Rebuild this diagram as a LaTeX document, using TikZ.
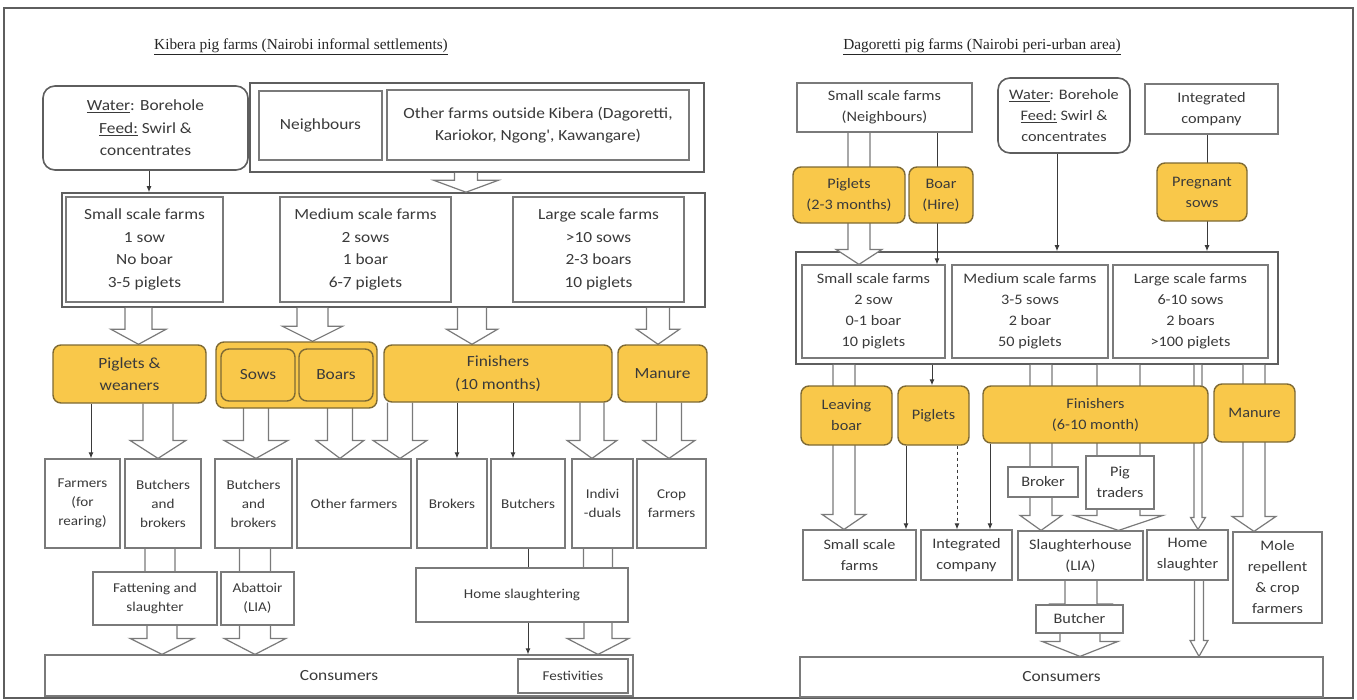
\documentclass[tikz,border=0pt]{standalone}
\usepackage{fontspec}
\setmainfont{Carlito}
\newfontfamily\boxfont{Carlito}[FakeStretch=1.12]
\newfontfamily\titlefont{Liberation Serif}
\usetikzlibrary{arrows.meta,calc}
\pgfdeclarelayer{bg}
\pgfsetlayers{bg,main}
\definecolor{ink}{HTML}{3A3A3A}
\definecolor{edge}{HTML}{7A7A7A}
\definecolor{frameline}{HTML}{5E5E5E}
\definecolor{gold}{HTML}{F9C84A}
\definecolor{goldedge}{HTML}{7E6A34}

% box from (x1,y1) to (x2,y2), y measured downwards
\newcommand\boxat[7][]{\node[#1, minimum width={#5-#3}, minimum height={#6-#4}] (#2) at ({(#3+#5)/2},{(#4+#6)/2}) {#7};}

\tikzset{
  every node/.style={inner sep=1pt, align=center, text=ink},
  boxline/.style={draw=edge, line width=1.2pt, fill=white},
  holder/.style={draw=frameline, line width=1.6pt, fill=white},
  soft/.style={draw=frameline, line width=1.6pt, fill=white, rounded corners=12pt},
  pig/.style={draw=goldedge, line width=1.4pt, fill=gold, rounded corners=8pt},
  lt/.style={font=\boxfont\fontsize{15.5}{22.5}\selectfont},
  rt/.style={font=\boxfont\fontsize{14.5}{21}\selectfont},
  st/.style={font=\boxfont\fontsize{13.5}{19}\selectfont},
  ttl/.style={font=\titlefont\fontsize{15.3}{18}\selectfont, text=black!85},
  wire/.style={draw=ink, line width=1pt, -{Latex[length=6pt,width=5pt]}},
  blk/.style n args={3}{draw=edge, line width=1.2pt, fill=white,
    to path={let \p1=(\tikztostart), \p2=(\tikztotarget) in
      (\x1-#1pt,\y1) -- (\x1-#1pt,\y2+#3pt) -- (\x1-#2pt,\y2+#3pt) -- (\x1,\y2)
      -- (\x1+#2pt,\y2+#3pt) -- (\x1+#1pt,\y2+#3pt) -- (\x1+#1pt,\y1)}},
}

\begin{document}
\begin{tikzpicture}[x=1pt,y=-1pt]
\useasboundingbox (0,0) rectangle (1357,699);

\begin{pgfonlayer}{bg}
  \fill[white] (0,0) rectangle (1357,699);
  % container frames
  \boxat[holder]{topK}{250}{83}{704}{172}{}
  \boxat[holder]{farmsK}{62}{193}{705}{307}{}
  \boxat[holder]{outerR}{796}{252}{1278}{364}{}
\end{pgfonlayer}

\draw[frameline, line width=1.2pt] (4,8) rectangle (1353,698);

% ---------------- Kibera ----------------
\node[ttl] (tK) at (301,47) {\underline{Kibera pig farms (Nairobi informal settlements)}};

\boxat[soft,lt]{waterK}{43}{86}{248}{170}{\underline{Water}: Borehole\\\underline{Feed:} Swirl \&\\concentrates}
\boxat[boxline,lt]{neighK}{259}{91}{382}{160}{Neighbours}
\boxat[boxline,lt]{otherK}{387}{90}{689}{160}{Other farms outside Kibera (Dagoretti,\\Kariokor, Ngong', Kawangare)}

\boxat[boxline,lt]{smallK}{66}{197}{223}{302}{Small scale farms\\1 sow\\No boar\\3-5 piglets}
\boxat[boxline,lt]{medK}{280}{197}{451}{302}{Medium scale farms\\2 sows\\1 boar\\6-7 piglets}
\boxat[boxline,lt]{largeK}{513}{197}{684}{302}{Large scale farms\\>10 sows\\2-3 boars\\10 piglets}

\boxat[pig,lt]{pigwK}{53}{345}{206}{403}{Piglets \&\\weaners}
\boxat[pig]{breedK}{216}{342}{377}{408}{}
\boxat[pig,lt]{sowsK}{221}{349}{295}{401}{Sows}
\boxat[pig,lt]{boarsK}{299}{349}{373}{401}{Boars}
\boxat[pig,lt]{finK}{384}{345}{612}{402}{Finishers\\(10 months)}
\boxat[pig,lt]{manK}{618}{345}{707}{402}{Manure}

\boxat[boxline,st]{rearK}{45}{459}{120}{548}{Farmers\\(for\\rearing)}
\boxat[boxline,st]{bbA}{125}{459}{201}{548}{Butchers\\and\\brokers}
\boxat[boxline,st]{bbB}{215}{459}{292}{548}{Butchers\\and\\brokers}
\boxat[boxline,st]{ofK}{297}{459}{411}{548}{Other farmers}
\boxat[boxline,st]{brK}{417}{459}{487}{548}{Brokers}
\boxat[boxline,st]{buK}{491}{459}{565}{548}{Butchers}
\boxat[boxline,st]{indK}{572}{459}{633}{548}{Indivi\\-duals}
\boxat[boxline,st]{cropK}{637}{459}{706}{548}{Crop\\farmers}

\boxat[boxline,st]{fatK}{93}{572}{217}{625}{Fattening and\\slaughter}
\boxat[boxline,st]{abK}{221}{572}{294}{625}{Abattoir\\(LIA)}
\boxat[boxline,st]{homeK}{416}{568}{628}{622}{Home slaughtering}
\boxat[boxline,lt]{consK}{45}{655}{633}{696}{Consumers}
\boxat[boxline,st]{festK}{518}{659}{628}{693}{Festivities}

% ---------------- Dagoretti ----------------
\node[ttl] (tD) at (982,47) {\underline{Dagoretti pig farms (Nairobi peri-urban area)}};

\boxat[boxline,rt]{nbR}{797}{83}{972}{132}{Small scale farms\\(Neighbours)}
\boxat[soft,rt]{waterR}{998}{78}{1130}{153}{\underline{Water}: Borehole\\\underline{Feed:} Swirl \&\\concentrates}
\boxat[boxline,rt]{integR}{1145}{84}{1278}{134}{Integrated\\company}

\boxat[pig,rt]{pig23}{793}{167}{905}{223}{Piglets\\(2-3 months)}
\boxat[pig,rt]{boarH}{909}{167}{973}{223}{Boar\\(Hire)}
\boxat[pig,rt]{pregR}{1157}{163}{1247}{221}{Pregnant\\sows}

\boxat[boxline,rt]{smallR}{802}{265}{945}{358}{Small scale farms\\2 sow\\0-1 boar\\10 piglets}
\boxat[boxline,rt]{medR}{952}{265}{1108}{358}{Medium scale farms\\3-5 sows\\2 boar\\50 piglets}
\boxat[boxline,rt]{largeR}{1113}{265}{1268}{358}{Large scale farms\\6-10 sows\\2 boars\\>100 piglets}

\boxat[pig,rt]{leaveR}{801}{386}{892}{445}{Leaving\\boar}
\boxat[pig,rt]{pigR}{898}{386}{969}{445}{Piglets}
\boxat[pig,rt]{finR}{983}{386}{1208}{443}{Finishers\\(6-10 month)}
\boxat[pig,rt]{manR}{1214}{384}{1295}{442}{Manure}

\boxat[boxline,rt]{brokR}{1008}{467}{1078}{497}{Broker}
\boxat[boxline,rt]{tradR}{1086}{456}{1154}{509}{Pig\\traders}

\boxat[boxline,rt]{sfb}{803}{530}{916}{580}{Small scale\\farms}
\boxat[boxline,rt]{icb}{921}{530}{1012}{580}{Integrated\\company}
\boxat[boxline,rt]{slh}{1018}{531}{1143}{580}{Slaughterhouse\\(LIA)}
\boxat[boxline,rt]{homeR}{1147}{530}{1228}{580}{Home\\slaughter}
\boxat[boxline,rt]{moleR}{1233}{532}{1322}{623}{Mole\\repellent\\\& crop\\farmers}
\boxat[boxline,rt]{butR}{1036}{605}{1123}{633}{Butcher}
\boxat[boxline,lt]{consR}{800}{657}{1323}{697}{Consumers}

% ---------------- connectors ----------------
\begin{pgfonlayer}{bg}
  % Kibera
  \draw[wire] (waterK.south -| 149,0) -- (farmsK.north -| 149,0);
  \draw[blk={11.5}{32.5}{12}] (topK.south -| 466,0) to (farmsK.north -| 466,0);
  \draw[blk={13.5}{27.5}{15}] (farmsK.south -| 138.5,0) to (pigwK.north -| 138.5,0);
  \draw[blk={15.5}{30}{15}] (farmsK.south -| 312.5,0) to (breedK.north -| 312.5,0);
  \draw[blk={14.5}{25.5}{15}] (farmsK.south -| 472,0) to (finK.north -| 472,0);
  \draw[blk={11.5}{21.5}{15}] (farmsK.south -| 658,0) to (manK.north -| 658,0);

  \draw[wire] (pigwK.south -| 91,0) -- (rearK.north -| 91,0);
  \draw[blk={15}{28}{18}] (pigwK.south -| 158,0) to (bbA.north -| 158,0);
  \draw[blk={12.5}{32}{18}] (sowsK.south -| 256,0) to (bbB.north -| 256,0);
  \draw[blk={12.5}{24}{18}] (boarsK.south -| 340,0) to (ofK.north -| 340,0);
  \draw[blk={12.5}{27}{18}] (finK.south -| 400,0) to (ofK.north -| 400,0);
  \draw[wire] (finK.south -| 457,0) -- (brK.north -| 457,0);
  \draw[wire] (finK.south -| 513,0) -- (buK.north -| 513,0);
  \draw[blk={12}{25}{18}] (finK.south -| 592,0) to (indK.north -| 592,0);
  \draw[blk={12.5}{26}{18}] (manK.south -| 669,0) to (cropK.north -| 669,0);

  \draw[blk={15}{28}{15}] (bbA.south -| 160,0) to (fatK.center -| 160,0);
  \draw[blk={15.5}{28}{15}] (bbB.south -| 255,0) to (abK.center -| 255,0);
  \draw[blk={14.5}{28}{15}] (indK.south -| 598,0) to (homeK.center -| 598,0);
  \draw[wire] (buK.south -| 528,0) -- (consK.north -| 528,0);
  \draw[blk={15}{32}{16}] (fatK.south -| 162,0) to (consK.north -| 162,0);
  \draw[blk={15.5}{31}{16}] (abK.south -| 255,0) to (consK.north -| 255,0);
  \draw[blk={14}{31}{16}] (homeK.south -| 598,0) to (consK.north -| 598,0);

  % Dagoretti
  \draw[blk={11}{23}{15}] (nbR.south -| 859,0) to (smallR.north -| 859,0);
  \draw[wire] (nbR.south -| 937,0) -- (smallR.north -| 937,0);
  \draw[wire] (waterR.south -| 1057,0) -- (outerR.north -| 1057,0);
  \draw[wire] (integR.south -| 1207,0) -- (outerR.north -| 1207,0);

  \draw[blk={11}{22}{15}] (outerR.south -| 844,0) to (sfb.north -| 844,0);
  \draw[wire] (outerR.south -| 932,0) -- (pigR.north -| 932,0);
  \draw[wire] (pigR.south -| 906,0) -- (sfb.north -| 906,0);
  \draw[wire, dashed] (pigR.south -| 957,0) -- (icb.north -| 957,0);
  \draw[wire] (finR.south -| 990,0) -- (icb.north -| 990,0);
  \draw[blk={11}{21}{15}] (outerR.south -| 1041,0) to (slh.north -| 1041,0);
  \draw[blk={21.5}{44.5}{15}] (outerR.south -| 1118.5,0) to (slh.north -| 1118.5,0);
  \draw[blk={4}{7.5}{12}] (outerR.south -| 1198,0) to (homeR.north -| 1198,0);
  \draw[blk={11}{22}{15}] (outerR.south -| 1254,0) to (moleR.north -| 1254,0);
  \draw[blk={16}{30}{15}] (slh.south -| 1081,0) to (butR.center -| 1081,0);
  \draw[blk={20}{38}{15}] (butR.south -| 1080,0) to (consR.north -| 1080,0);
  \draw[blk={4.5}{9}{16}] (homeR.south -| 1199,0) to (consR.north -| 1199,0);
\end{pgfonlayer}
\end{tikzpicture}
\end{document}
